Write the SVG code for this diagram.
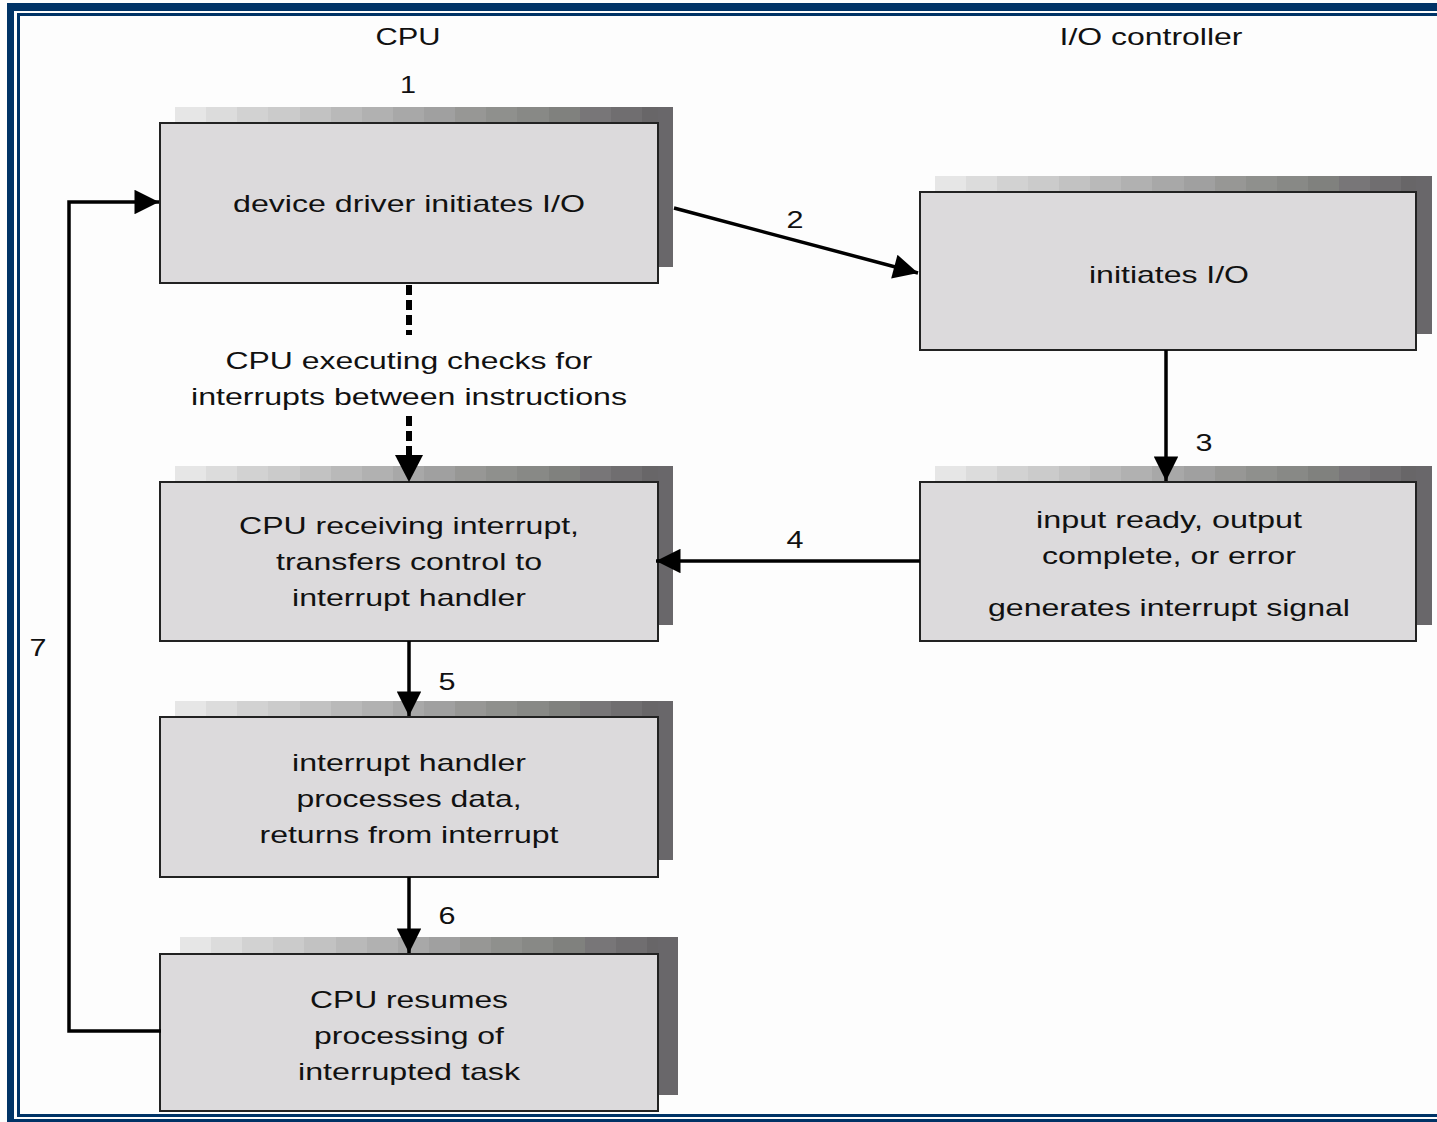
<svg xmlns="http://www.w3.org/2000/svg" width="1437" height="1122" viewBox="0 0 1437 1122">
<style>
text{font-family:"Liberation Sans",Arial,sans-serif;font-size:24px;fill:#111;text-anchor:middle}
.box{fill:#dcdadc;stroke:#222;stroke-width:2}
.side{fill:#69676a}
.ln{stroke:#000;stroke-width:3.5;fill:none}
.dash{stroke:#000;stroke-width:6;fill:none;stroke-dasharray:10,5}
</style>
<defs>
<linearGradient id="sh" x1="0" y1="0" x2="1" y2="0">
<stop offset="0" stop-color="#e6e6e6"/><stop offset="0.0625" stop-color="#e6e6e6"/>
<stop offset="0.0625" stop-color="#dcdcdc"/><stop offset="0.125" stop-color="#dcdcdc"/>
<stop offset="0.125" stop-color="#d2d2d2"/><stop offset="0.1875" stop-color="#d2d2d2"/>
<stop offset="0.1875" stop-color="#cbcbcb"/><stop offset="0.25" stop-color="#cbcbcb"/>
<stop offset="0.25" stop-color="#c2c2c2"/><stop offset="0.3125" stop-color="#c2c2c2"/>
<stop offset="0.3125" stop-color="#b9b9b9"/><stop offset="0.375" stop-color="#b9b9b9"/>
<stop offset="0.375" stop-color="#b1b1b1"/><stop offset="0.4375" stop-color="#b1b1b1"/>
<stop offset="0.4375" stop-color="#a8a8a8"/><stop offset="0.5" stop-color="#a8a8a8"/>
<stop offset="0.5" stop-color="#a0a0a0"/><stop offset="0.5625" stop-color="#a0a0a0"/>
<stop offset="0.5625" stop-color="#979795"/><stop offset="0.625" stop-color="#979795"/>
<stop offset="0.625" stop-color="#8f908d"/><stop offset="0.6875" stop-color="#8f908d"/>
<stop offset="0.6875" stop-color="#888986"/><stop offset="0.75" stop-color="#888986"/>
<stop offset="0.75" stop-color="#80817e"/><stop offset="0.8125" stop-color="#80817e"/>
<stop offset="0.8125" stop-color="#787678"/><stop offset="0.875" stop-color="#787678"/>
<stop offset="0.875" stop-color="#706e70"/><stop offset="0.9375" stop-color="#706e70"/>
<stop offset="0.9375" stop-color="#686668"/><stop offset="1" stop-color="#686668"/>
</linearGradient>
<marker id="ah" viewBox="0 0 10 10" refX="10" refY="5" markerWidth="9" markerHeight="7" markerUnits="strokeWidth" orient="auto">
<path d="M0,0 L10,5 L0,10 z" fill="#000"/>
</marker>
</defs>
<rect width="1437" height="1122" fill="#fdfdfd"/>
<g id="frame" fill="#003366">
<rect x="7" y="3" width="1430" height="8"/>
<rect x="7" y="3" width="7" height="1119"/>
<rect x="7" y="1119" width="1430" height="3"/>
<rect x="17" y="13" width="1420" height="3"/>
<rect x="17" y="13" width="3" height="1104"/>
<rect x="17" y="1114" width="1420" height="3"/>
</g>
<g id="labels">
<text x="408" y="45" textLength="65" lengthAdjust="spacingAndGlyphs">CPU</text>
<text x="1151" y="45" textLength="183" lengthAdjust="spacingAndGlyphs">I/O controller</text>
<text x="408" y="93" textLength="16" lengthAdjust="spacingAndGlyphs">1</text>
<text x="409" y="369" textLength="367" lengthAdjust="spacingAndGlyphs">CPU executing checks for</text>
<text x="409" y="405" textLength="436" lengthAdjust="spacingAndGlyphs">interrupts between instructions</text>
</g>
<g id="n1">
<rect x="175" y="107" width="498" height="16" fill="url(#sh)"/>
<rect class="side" x="658" y="107" width="15" height="160"/>
<rect class="box" x="160" y="123" width="498" height="160"/>
<text x="409" y="212" textLength="352" lengthAdjust="spacingAndGlyphs">device driver initiates I/O</text>
</g>
<g id="n2">
<rect x="935" y="176" width="497" height="16" fill="url(#sh)"/>
<rect class="side" x="1416" y="176" width="16" height="158"/>
<rect class="box" x="920" y="192" width="496" height="158"/>
<text x="1169" y="283" textLength="160" lengthAdjust="spacingAndGlyphs">initiates I/O</text>
</g>
<g id="n3">
<rect x="175" y="466" width="498" height="16" fill="url(#sh)"/>
<rect class="side" x="658" y="466" width="15" height="159"/>
<rect class="box" x="160" y="482" width="498" height="159"/>
<text x="409" y="534" textLength="340" lengthAdjust="spacingAndGlyphs">CPU receiving interrupt,</text>
<text x="409" y="570" textLength="266" lengthAdjust="spacingAndGlyphs">transfers control to</text>
<text x="409" y="606" textLength="234" lengthAdjust="spacingAndGlyphs">interrupt handler</text>
</g>
<g id="n4">
<rect x="935" y="466" width="497" height="16" fill="url(#sh)"/>
<rect class="side" x="1416" y="466" width="16" height="159"/>
<rect class="box" x="920" y="482" width="496" height="159"/>
<text x="1169" y="528" textLength="266" lengthAdjust="spacingAndGlyphs">input ready, output</text>
<text x="1169" y="564" textLength="254" lengthAdjust="spacingAndGlyphs">complete, or error</text>
<text x="1169" y="616" textLength="362" lengthAdjust="spacingAndGlyphs">generates interrupt signal</text>
</g>
<g id="n5">
<rect x="175" y="701" width="498" height="16" fill="url(#sh)"/>
<rect class="side" x="658" y="701" width="15" height="159"/>
<rect class="box" x="160" y="717" width="498" height="160"/>
<text x="409" y="771" textLength="234" lengthAdjust="spacingAndGlyphs">interrupt handler</text>
<text x="409" y="807" textLength="225" lengthAdjust="spacingAndGlyphs">processes data,</text>
<text x="409" y="843" textLength="299" lengthAdjust="spacingAndGlyphs">returns from interrupt</text>
</g>
<g id="n6">
<rect x="180" y="937" width="498" height="17" fill="url(#sh)"/>
<rect class="side" x="658" y="937" width="20" height="158"/>
<rect class="box" x="160" y="954" width="498" height="157"/>
<text x="409" y="1008" textLength="198" lengthAdjust="spacingAndGlyphs">CPU resumes</text>
<text x="409" y="1044" textLength="190" lengthAdjust="spacingAndGlyphs">processing of</text>
<text x="409" y="1080" textLength="222" lengthAdjust="spacingAndGlyphs">interrupted task</text>
</g>
<g id="connectors">
<line class="ln" x1="674" y1="208" x2="918" y2="273" marker-end="url(#ah)"/>
<line class="ln" x1="1166" y1="350" x2="1166" y2="481" marker-end="url(#ah)"/>
<line class="ln" x1="920" y1="561" x2="656" y2="561" marker-end="url(#ah)"/>
<line class="ln" x1="409" y1="641" x2="409" y2="716" marker-end="url(#ah)"/>
<line class="ln" x1="409" y1="877" x2="409" y2="953" marker-end="url(#ah)"/>
<polyline class="ln" points="161,1031 69,1031 69,202 159,202" marker-end="url(#ah)"/>
<line class="dash" x1="409" y1="285" x2="409" y2="335"/>
<line class="dash" x1="409" y1="416" x2="409" y2="455"/>
<path d="M395,455 L423,455 L409,482 z" fill="#000"/>
<text x="795" y="228" textLength="17" lengthAdjust="spacingAndGlyphs">2</text>
<text x="1204" y="451" textLength="17" lengthAdjust="spacingAndGlyphs">3</text>
<text x="795" y="548" textLength="17" lengthAdjust="spacingAndGlyphs">4</text>
<text x="447" y="690" textLength="17" lengthAdjust="spacingAndGlyphs">5</text>
<text x="447" y="924" textLength="17" lengthAdjust="spacingAndGlyphs">6</text>
<text x="38" y="656" textLength="17" lengthAdjust="spacingAndGlyphs">7</text>
</g>
</svg>
